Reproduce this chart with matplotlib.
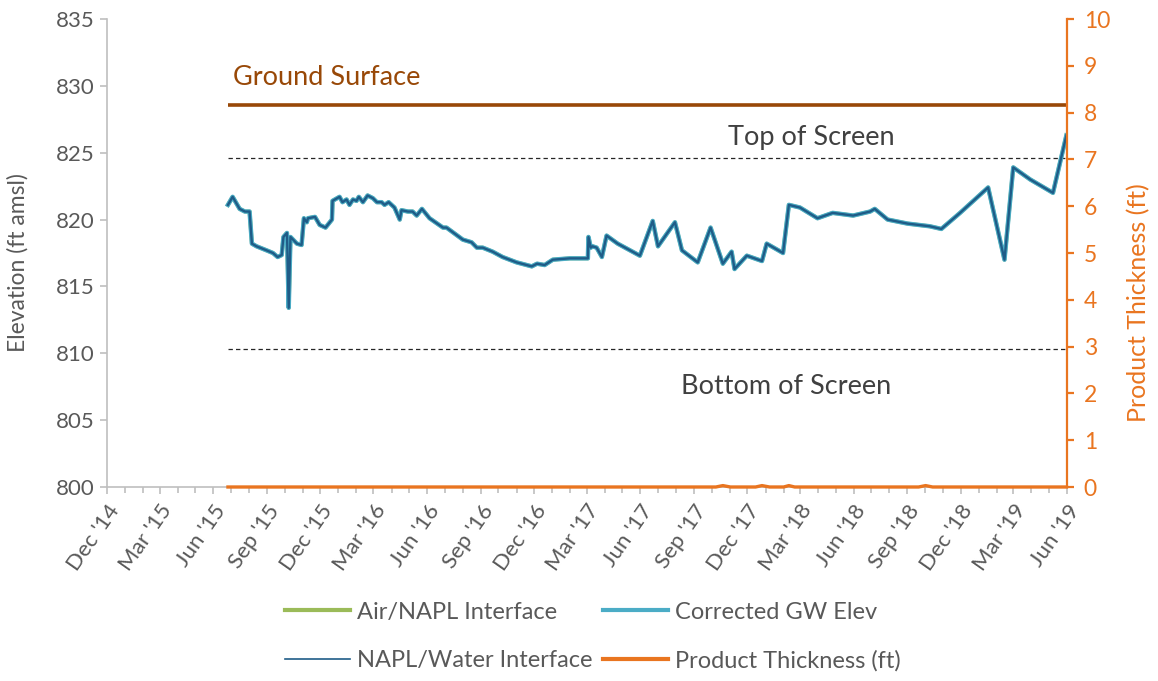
import matplotlib
matplotlib.use("Agg")
import matplotlib.pyplot as plt
import matplotlib.dates as mdates
from matplotlib.lines import Line2D
import numpy as np
import pandas as pd

# ---------------- data ----------------
dates = [
    '2015-06-26', '2015-07-04', '2015-07-16', '2015-07-25', '2015-08-02', '2015-08-06', '2015-08-14', '2015-08-31', '2015-09-11', '2015-09-19',
    '2015-09-26', '2015-09-29', '2015-10-05', '2015-10-08', '2015-10-11', '2015-10-22', '2015-10-30', '2015-11-03', '2015-11-08', '2015-11-10',
    '2015-11-22', '2015-11-30', '2015-12-10', '2015-12-21', '2015-12-22', '2016-01-03', '2016-01-08', '2016-01-15', '2016-01-20', '2016-01-26',
    '2016-02-01', '2016-02-05', '2016-02-12', '2016-02-20', '2016-02-29', '2016-03-07', '2016-03-15', '2016-03-20', '2016-03-27', '2016-04-06',
    '2016-04-15', '2016-04-18', '2016-04-29', '2016-05-07', '2016-05-14', '2016-05-23', '2016-06-05', '2016-06-28', '2016-07-04', '2016-08-01',
    '2016-08-16', '2016-08-25', '2016-09-04', '2016-09-21', '2016-10-08', '2016-11-01', '2016-11-27', '2016-12-06', '2016-12-19', '2017-01-02',
    '2017-01-31', '2017-03-03', '2017-03-04', '2017-03-08', '2017-03-11', '2017-03-18', '2017-03-27', '2017-04-04', '2017-04-23', '2017-05-31',
    '2017-06-22', '2017-07-01', '2017-07-30', '2017-08-11', '2017-09-07', '2017-09-29', '2017-10-20', '2017-11-04', '2017-11-09', '2017-11-30',
    '2017-12-26', '2018-01-03', '2018-01-31', '2018-02-10', '2018-03-01', '2018-03-31', '2018-04-26', '2018-05-31', '2018-06-29', '2018-07-07',
    '2018-07-29', '2018-09-01', '2018-10-09', '2018-10-29', '2018-11-30', '2019-01-17', '2019-02-14', '2019-03-01', '2019-03-30', '2019-05-08',
    '2019-05-31',
]
corrected_gw = [
    821.1, 821.7, 820.8, 820.6, 820.6, 818.2, 818.0, 817.7, 817.5, 817.2,
    817.35, 818.7, 819.0, 813.4, 818.7, 818.2, 818.1, 820.1, 819.8, 820.1,
    820.2, 819.6, 819.4, 820.0, 821.4, 821.7, 821.3, 821.5, 821.1, 821.5,
    821.4, 821.7, 821.3, 821.8, 821.6, 821.3, 821.3, 821.1, 821.3, 820.9,
    820.0, 820.7, 820.6, 820.6, 820.3, 820.8, 820.1, 819.4, 819.4, 818.5,
    818.3, 817.9, 817.9, 817.6, 817.2, 816.8, 816.5, 816.7, 816.6, 817.0,
    817.1, 817.1, 818.7, 817.9, 818.0, 817.9, 817.2, 818.8, 818.2, 817.3,
    819.9, 818.0, 819.8, 817.7, 816.8, 819.4, 816.7, 817.6, 816.3, 817.3,
    816.9, 818.2, 817.5, 821.1, 820.9, 820.1, 820.5, 820.3, 820.6, 820.8,
    820.0, 819.7, 819.5, 819.3, 820.5, 822.4, 817.0, 823.9, 823.0, 822.0,
    826.3,
]
# NAPL/Water interface and Air/NAPL interface coincide with the corrected GW elevation
napl_water = list(corrected_gw)
air_napl = list(corrected_gw)

pt_dates = ['2015-06-26', '2017-10-08', '2017-10-20', '2017-11-02', '2017-12-15', '2017-12-26', '2018-01-08',
            '2018-02-01', '2018-02-10', '2018-02-20', '2018-09-20', '2018-10-02', '2018-10-14', '2019-05-31']
product_thickness = [0, 0, 0.03, 0, 0, 0.03, 0, 0, 0.03, 0, 0, 0.03, 0, 0]

ground_surface = 828.6
top_of_screen = 824.6
bottom_of_screen = 810.3
ref_dates = ['2015-06-26', '2019-05-31']

x_min, x_max = '2014-12-01', '2019-06-01'

# ---------------- style ----------------
plt.rcParams['font.family'] = ['Lato', 'DejaVu Sans']
GRAY = '#595959'
AXGRAY = '#BFBFBF'
ORANGE = '#E97520'
BROWN = '#984807'
CYAN = '#4BACC6'
NAVY = '#1F5C87'
GREEN = '#9BBB59'

fig = plt.figure(figsize=(11.58, 6.81), dpi=100)
ax = fig.add_axes([107/1158, 1-487/681, 960/1158, 468/681])
ax2 = ax.twinx()

d = pd.to_datetime(dates)
rd = pd.to_datetime(ref_dates)

ax.plot(rd, [ground_surface]*2, color=BROWN, lw=2.6, solid_capstyle='butt', zorder=3)
ax.plot(rd, [top_of_screen]*2, color='#262626', lw=0.9, ls=(0, (3.5, 2.5)), zorder=3)
ax.plot(rd, [bottom_of_screen]*2, color='#262626', lw=0.9, ls=(0, (3.5, 2.5)), zorder=3)

ax.plot(d, air_napl, color=GREEN, lw=2.8, zorder=4)
ax.plot(d, corrected_gw, color=CYAN, lw=3.2, zorder=5)
ax.plot(d, napl_water, color=NAVY, lw=1.7, zorder=6)

ax2.plot(pd.to_datetime(pt_dates), product_thickness, color=ORANGE, lw=2.4, zorder=5, clip_on=False)

ax.set_xlim(pd.Timestamp(x_min), pd.Timestamp(x_max))
ax.set_ylim(800, 835)
ax2.set_ylim(0, 10)

ax.set_yticks(np.arange(800, 836, 5))
ax2.set_yticks(np.arange(0, 11, 1))

ax.xaxis.set_major_locator(mdates.MonthLocator(bymonth=[3, 6, 9, 12]))
ax.xaxis.set_minor_locator(mdates.MonthLocator())
ax.xaxis.set_major_formatter(mdates.DateFormatter("%b '%y"))

for a in (ax, ax2):
    a.spines['top'].set_visible(False)
ax.spines['right'].set_visible(False)
ax.spines['left'].set_color(AXGRAY)
ax.spines['bottom'].set_color(AXGRAY)
ax.spines['left'].set_linewidth(1.2)
ax.spines['bottom'].set_linewidth(1.2)
ax2.spines['left'].set_visible(False)
ax2.spines['bottom'].set_visible(False)
ax2.spines['right'].set_color(ORANGE)
ax2.spines['right'].set_linewidth(1.6)

ax.tick_params(axis='y', colors=AXGRAY, labelcolor=GRAY, labelsize=16, length=5, width=1.2, direction='out', pad=4)
ax.tick_params(axis='x', which='major', colors=AXGRAY, labelcolor=GRAY, labelsize=16, length=5, width=1.2, direction='out', pad=5)
ax.tick_params(axis='x', which='minor', colors=AXGRAY, length=4, width=1.2, direction='out')
ax2.tick_params(axis='y', colors=ORANGE, labelcolor=ORANGE, labelsize=16.5, length=5, width=1.6, direction='out', pad=7)

for lab in ax.get_xticklabels():
    lab.set_rotation(55)
    lab.set_ha('right')
    lab.set_va('top')
    lab.set_rotation_mode('anchor')

ax.set_ylabel('Elevation (ft amsl)', color=GRAY, fontsize=16.5)
ax.yaxis.set_label_coords(-0.082, 0.48)
ax2.set_ylabel('Product Thickness (ft)', color=ORANGE, fontsize=18)
ax2.yaxis.set_label_coords(1.063, 0.395)

ax.text(0.131, 0.874, 'Ground Surface', transform=ax.transAxes, color=BROWN, fontsize=19.5,
        ha='left', va='center')
ax.text(0.734, 0.746, 'Top of Screen', transform=ax.transAxes, color='#404040', fontsize=19.5,
        ha='center', va='center')
ax.text(0.707, 0.214, 'Bottom of Screen', transform=ax.transAxes, color='#404040', fontsize=19.5,
        ha='center', va='center')

handles = [
    Line2D([], [], color=GREEN, lw=3.0),
    Line2D([], [], color=NAVY, lw=1.2),
    Line2D([], [], color=CYAN, lw=3.0),
    Line2D([], [], color=ORANGE, lw=3.0),
]
labels = ['Air/NAPL Interface', 'NAPL/Water Interface', 'Corrected GW Elev', 'Product Thickness (ft)']
leg = fig.legend(handles, labels, ncol=2, loc='center', bbox_to_anchor=(0.5117, 0.0653),
                 frameon=False, fontsize=17, handlelength=2.75, handletextpad=0.3,
                 columnspacing=0.45, labelspacing=1.15, borderaxespad=0)
for t in leg.get_texts():
    t.set_color(GRAY)

fig.savefig('out.png', dpi=100)
